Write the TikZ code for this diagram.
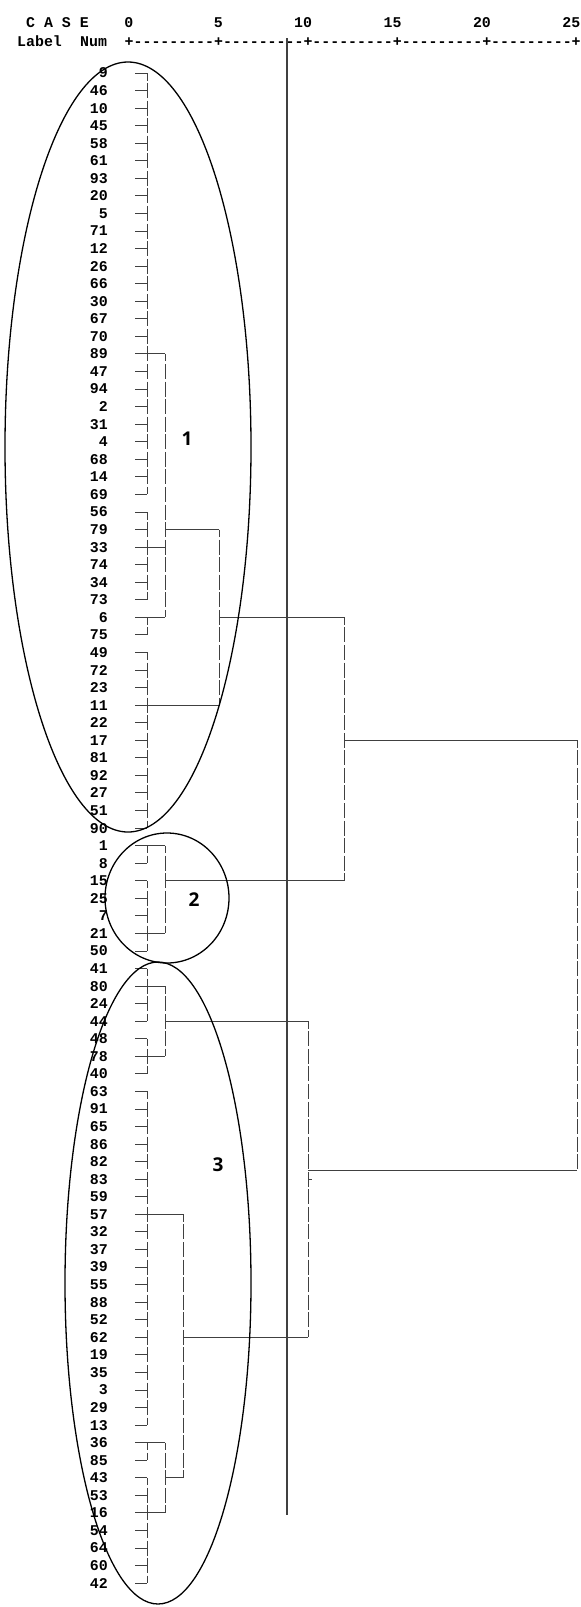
\documentclass[tikz,border=0pt]{standalone}
\usepackage{fontspec}
\setmonofont{Liberation Mono}
\newfontfamily\tagfont{Open Sans}
\newcommand\rulerdash{-{}-{}-{}-{}-{}-{}-{}-{}-}

\begin{document}
\begin{tikzpicture}[x=1pt, y=-1pt,
	every node/.style={inner sep=0pt, font=\fontsize{14.9}{15}\selectfont\ttfamily\bfseries},
	hdr/.style={anchor=base west},
	leaf/.style={anchor=east},
	link/.style={black!75, line width=1pt},
	merge/.style={link, dash pattern=on 15pt off 2.56pt, dash phase=7.5pt},
	ring/.style={black, line width=1.3pt},
	tag/.style={font=\fontsize{19}{19}\selectfont\tagfont\bfseries}]
	\useasboundingbox (0,0) rectangle (581,1607);
	% header
	\node[hdr] (case) at (26,27) {C A S E};
	\node[hdr] (label) at (17,46) {Label};
	\node[hdr] (num) at (80,46) {Num};
	\node[hdr] (ruler) at (124.5,46) {+\rulerdash+\rulerdash+\rulerdash+\rulerdash+\rulerdash+};
	\foreach \v [count=\k from 0] in {0,5,10,15,20,25}
		\node[anchor=base east] (s\v) at ({133.5+89.4*\k},27) {\v};
	% leaves
	\coordinate (lv1) at (147,0);
	\coordinate (lv2) at (165,0);
	\coordinate (lv3) at (183,0);
	\coordinate (lv4) at (219,0);
	\coordinate (lv5) at (308,0);
	\coordinate (lv6) at (344,0);
	\coordinate (lv7) at (577,0);
	\foreach \lab [count=\i from 0] in {9,46,10,45,58,61,93,20,5,71,12,26,66,30,67,70,89,47,94,2,31,4,68,14,69,56,79,33,74,34,73,6,75,49,72,23,11,22,17,81,92,27,51,90,1,8,15,25,7,21,50,41,80,24,44,48,78,40,63,91,65,86,82,83,59,57,32,37,39,55,88,52,62,19,35,3,29,13,36,85,43,53,16,54,64,60,42} {
		\node[leaf] (c\lab) at (108,{73+17.56*\i}) {\lab};
		\coordinate (t\lab) at (135,{73+17.56*\i});
		\draw[link] (t\lab) -- (t\lab -| lv1);
	}
	% first merges
	\foreach \a/\b in {9/69,56/73,6/75,49/90,1/8,15/50,41/44,48/40,63/13,36/85,43/42}
		\draw[merge] (t\a -| lv1) -- (t\b -| lv1);
	% tree
	\foreach \r/\from/\to in {89/lv1/lv2, 33/lv1/lv2, 6/lv1/lv2, 79/lv2/lv4, 11/lv1/lv4, 6/lv4/lv6, 1/lv1/lv2, 21/lv1/lv2, 15/lv2/lv6, 17/lv6/lv7, 80/lv1/lv2, 78/lv1/lv2, 44/lv2/lv5, 57/lv1/lv3, 36/lv1/lv2, 16/lv1/lv2, 43/lv2/lv3, 62/lv3/lv5}
		\draw[link] (t\r -| \from) -- (t\r -| \to);
	\foreach \a/\b/\lv in {89/6/lv2, 79/11/lv4, 1/21/lv2, 6/15/lv6, 80/78/lv2, 36/16/lv2, 57/43/lv3, 44/62/lv5}
		\draw[merge] (t\a -| \lv) -- (t\b -| \lv);
	\coordinate (top3) at (308,1170);
	\draw[link] (top3) -- (top3 -| lv7);
	\draw[merge] (t17 -| lv7) -- (top3 -| lv7);
	\draw[link] (t83 -| lv5) -- ++(4,0);
	% cut
	\coordinate (cuttop) at (287,38);
	\coordinate (cutbot) at (287,1515);
	\draw[link, line width=1.2pt] (cuttop) -- (cutbot);
	% groups
	\draw[ring] (128,447) ellipse [x radius=123pt, y radius=385pt];
	\draw[ring] (167,898) ellipse [x radius=62pt, y radius=65pt];
	\draw[ring] (158,1283) ellipse [x radius=93pt, y radius=321pt];
	\node[tag] (g1) at (187,439) {1};
	\node[tag] (g2) at (194,900) {2};
	\node[tag] (g3) at (218,1165) {3};
\end{tikzpicture}
\end{document}
